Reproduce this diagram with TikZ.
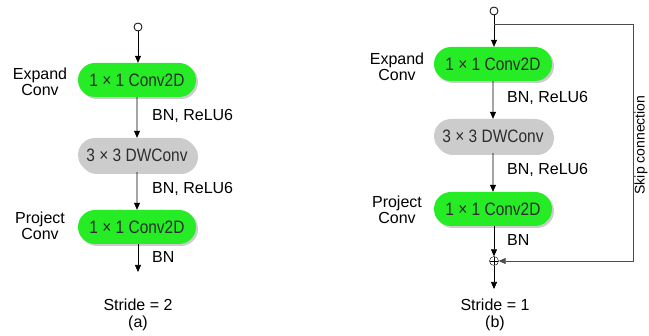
\documentclass[tikz,border=0pt]{standalone}
\usepackage{fontspec}
\setmainfont{Liberation Sans}
\newfontfamily\convfont[FakeStretch=0.86]{Liberation Sans}
\usetikzlibrary{arrows.meta,shapes.misc,shadows}
\definecolor{convgreen}{RGB}{38,236,38}
\definecolor{convgray}{RGB}{204,204,204}
\definecolor{convtext}{RGB}{45,45,45}
\tikzset{
  conv/.style={rounded rectangle, minimum width=118pt, minimum height=34pt, inner sep=0pt,
    text=convtext, font=\convfont\fontsize{18}{19}\selectfont,
    drop shadow={shadow xshift=2pt, shadow yshift=-2pt, opacity=0.4}},
  greenconv/.style={conv, fill=convgreen},
  grayconv/.style={conv, fill=convgray},
  lbl/.style={font=\fontsize{16}{16.5}\selectfont, align=center, inner sep=0pt},
  inport/.style={circle, draw, thick, fill=white, minimum size=8pt, inner sep=0pt},
  sumnode/.style={circle, draw, fill=white, minimum size=9pt, inner sep=0pt,
    path picture={\draw (path picture bounding box.north) -- (path picture bounding box.south)
      (path picture bounding box.west) -- (path picture bounding box.east);}},
  flow/.style={line width=0.6pt, -{Triangle[length=7pt,width=6pt]}}
}
\begin{document}
\begin{tikzpicture}[x=1pt,y=-1pt]
    \useasboundingbox (0,0) rectangle (649,336);

    % (a) stride 2
    \node[inport] (a0) at (138,27) {};
    \node[greenconv] (a1) at (137,80) {1 × 1 Conv2D};
    \node[grayconv] (a2) at (137,155) {3 × 3 DWConv};
    \node[greenconv] (a3) at (137,227) {1 × 1 Conv2D};
    \coordinate (aout) at (138,272);

    \node[lbl] (aexp) at (40,82) {Expand\\Conv};
    \node[lbl] (aproj) at (40,226) {Project\\Conv};
    \node[lbl, anchor=west] (abn1) at (152,116) {BN, ReLU6};
    \node[lbl, anchor=west] (abn2) at (152,189) {BN, ReLU6};
    \node[lbl, anchor=west] (abn3) at (152,257) {BN};
    \node[lbl] (astride) at (138,305) {Stride = 2};
    \node[lbl] (acap) at (138,323) {(a)};

    \draw[flow] (a0) -- (a0 |- a1.north);
    \draw[flow] (a1) -- (a2);
    \draw[flow] (a2) -- (a3);
    \draw[flow] (a3.south -| aout) -- (aout);

    % (b) stride 1
    \node[inport] (b0) at (494,11) {};
    \node[greenconv] (b1) at (493,64) {1 × 1 Conv2D};
    \node[grayconv] (b2) at (493,136) {3 × 3 DWConv};
    \node[greenconv] (b3) at (493,209) {1 × 1 Conv2D};
    \node[sumnode] (bsum) at (494,261) {};
    \coordinate (bout) at (494,289);
    \coordinate (bsplit) at (494,24);
    \coordinate (bcorner) at (633,24);

    \node[lbl] (bexp) at (397,67) {Expand\\Conv};
    \node[lbl] (bproj) at (397,210) {Project\\Conv};
    \node[lbl, anchor=west] (bbn1) at (507,98) {BN, ReLU6};
    \node[lbl, anchor=west] (bbn2) at (507,170) {BN, ReLU6};
    \node[lbl, anchor=west] (bbn3) at (507,240) {BN};
    \node[lbl] (bstride) at (495,305) {Stride = 1};
    \node[lbl] (bcap) at (495,323) {(b)};
    \node[lbl, rotate=90, font=\fontsize{14}{15}\selectfont] (bskip) at (641,145) {Skip connection};

    \draw[flow] (b0) -- (b0 |- b1.north);
    \draw[flow] (b1) -- (b2);
    \draw[flow] (b2) -- (b3);
    \draw[flow] (b3.south -| bsum) -- (bsum);
    \draw[flow] (bsum) -- (bout);
    \draw[flow, black!70] (bsplit) -- (bcorner) |- (bsum);
\end{tikzpicture}
\end{document}
